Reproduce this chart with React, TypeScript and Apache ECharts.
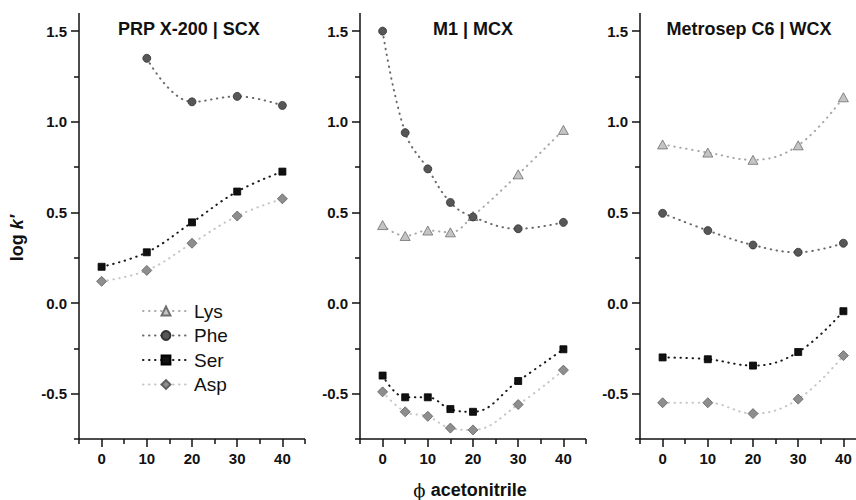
import React, { useEffect, useRef } from "react";
import * as echarts from "echarts";

// Retention factors (log k') vs. acetonitrile content for three columns
const xSCX = [0, 10, 20, 30, 40];
const scxPhe = [null, 1.35, 1.11, 1.14, 1.09];
const scxSer = [0.2, 0.28, 0.445, 0.615, 0.725];
const scxAsp = [0.12, 0.18, 0.33, 0.48, 0.575];

const xMCX = [0, 5, 10, 15, 20, 30, 40];
const mcxLys = [0.43, 0.37, 0.4, 0.39, 0.48, 0.71, 0.955];
const mcxPhe = [1.5, 0.94, 0.74, 0.555, 0.475, 0.41, 0.445];
const mcxSer = [-0.4, -0.52, -0.52, -0.585, -0.6, -0.43, -0.255];
const mcxAsp = [-0.49, -0.6, -0.625, -0.69, -0.7, -0.56, -0.37];

const xWCX = [0, 10, 20, 30, 40];
const wcxLys = [0.875, 0.83, 0.79, 0.87, 1.135];
const wcxPhe = [0.495, 0.4, 0.32, 0.28, 0.33];
const wcxSer = [-0.3, -0.31, -0.345, -0.27, -0.045];
const wcxAsp = [-0.55, -0.55, -0.61, -0.53, -0.29];

const panelTitles = ["PRP X-200 | SCX", "M1 | MCX", "Metrosep C6 | WCX"];
const xMajorTicks = [0, 10, 20, 30, 40];
const xMinorTicks = [-5, 5, 15, 25, 35, 45];
const yMajorTicks = [-0.5, 0, 0.5, 1, 1.5];
const yMinorTicks = [-0.75, -0.25, 0.25, 0.75, 1.25];

const X_MIN = -5;
const X_MAX = 45;
const Y_MIN = -0.75;
const Y_MAX = 1.6;

const FONT = "'Liberation Sans', Arial, Helvetica, sans-serif";

const GRID_TOP = 13;
const GRID_W = 226;
const GRID_H = 426;
const gridLefts = [79, 360, 640];
const titleCenters = [189, 473, 749];

type Style = {
  symbol: string;
  size: number | number[];
  fill: string;
  border: string;
  line: string;
};

const styles: Record<string, Style> = {
  Lys: { symbol: "triangle", size: [10, 9], fill: "#c4c4c4", border: "#6e6e6e", line: "#a9a9a9" },
  Phe: { symbol: "circle", size: 8, fill: "#575757", border: "#333333", line: "#6a6a6a" },
  Ser: { symbol: "rect", size: 7, fill: "#111111", border: "#000000", line: "#1a1a1a" },
  Asp: { symbol: "diamond", size: 10, fill: "#8e8e8e", border: "#5e5e5e", line: "#c6c6c6" },
};

function pairs(xs: number[], ys: (number | null)[]) {
  const out: number[][] = [];
  xs.forEach((x, i) => {
    const y = ys[i];
    if (y !== null && y !== undefined) out.push([x, y]);
  });
  return out;
}

function makeSeries(name: string, panel: number, xs: number[], ys: (number | null)[]) {
  const s = styles[name];
  return {
    type: "line",
    name,
    xAxisIndex: panel,
    yAxisIndex: panel,
    data: pairs(xs, ys),
    smooth: 0.4,
    symbol: s.symbol,
    symbolSize: s.size,
    itemStyle: { color: s.fill, borderColor: s.border, borderWidth: 0.8 },
    lineStyle: { color: s.line, width: 2, type: [0.5, 5.5], cap: "round" },
    emphasis: { disabled: true },
    z: 3,
  };
}

function lineStyle() {
  return { color: "#111", width: 1.5 };
}

const labelFont = {
  fontSize: 15,
  fontWeight: "bold",
  fontFamily: FONT,
  color: "#111",
};

// an axis that draws nothing but ticks at the given values
function tickAxis(
  dim: "x" | "y",
  gridIndex: number,
  values: number[],
  length: number,
  inside = false
) {
  return {
    type: "value",
    gridIndex,
    position: dim === "x" ? "bottom" : "left",
    min: dim === "x" ? X_MIN : Y_MIN,
    max: dim === "x" ? X_MAX : Y_MAX,
    axisLine: { show: false, onZero: false },
    splitLine: { show: false },
    axisTick: { show: true, inside, length, customValues: values.slice(), lineStyle: lineStyle() },
    axisLabel: { show: false },
  };
}

export default function App() {
  const ref = useRef<HTMLDivElement>(null);

  useEffect(() => {
    if (!ref.current) return;
    const chart = echarts.init(ref.current, undefined, { renderer: "svg" });

    // four layers of grids over the same three boxes:
    // 0-2 data + labels, 3-5 minor ticks, 6-8 major ticks, 9-11 the axis frame
    const rect = (left: number) => ({
      left,
      top: GRID_TOP,
      width: GRID_W,
      height: GRID_H,
      outerBoundsMode: "none",
      containLabel: false,
    });
    const grids = [0, 1, 2, 3].flatMap(() => gridLefts.map(rect));

    const xMain = gridLefts.map((_, i) => ({
      type: "value",
      gridIndex: i,
      position: "bottom",
      min: X_MIN,
      max: X_MAX,
      axisLine: { show: false, onZero: false },
      splitLine: { show: false },
      axisTick: { show: false },
      axisLabel: { ...labelFont, margin: 12, customValues: xMajorTicks.slice() },
    }));
    const yMain = gridLefts.map((_, i) => ({
      type: "value",
      gridIndex: i,
      position: "left",
      min: Y_MIN,
      max: Y_MAX,
      axisLine: { show: false, onZero: false },
      splitLine: { show: false },
      axisTick: { show: false },
      axisLabel: {
        ...labelFont,
        margin: 12,
        customValues: yMajorTicks.slice(),
        formatter: (v: number) => v.toFixed(1),
      },
    }));

    const xMinor = gridLefts.map((_, i) => tickAxis("x", i + 3, xMinorTicks, 5));
    const yMinor = gridLefts.map((_, i) => tickAxis("y", i + 3, yMinorTicks, 5));
    const xMajor = gridLefts.map((_, i) => tickAxis("x", i + 6, xMajorTicks, 8));
    const yMajor = gridLefts.map((_, i) => tickAxis("y", i + 6, yMajorTicks, 8));
    // the left and bottom axis lines: one inward tick at each axis minimum,
    // as long as the panel is tall / wide
    const xFrame = gridLefts.map((_, i) => tickAxis("x", i + 9, [X_MIN], GRID_H, true));
    const yFrame = gridLefts.map((_, i) => tickAxis("y", i + 9, [Y_MIN], GRID_W, true));

    const series = [
      makeSeries("Phe", 0, xSCX, scxPhe),
      makeSeries("Ser", 0, xSCX, scxSer),
      makeSeries("Asp", 0, xSCX, scxAsp),
      makeSeries("Lys", 1, xMCX, mcxLys),
      makeSeries("Phe", 1, xMCX, mcxPhe),
      makeSeries("Ser", 1, xMCX, mcxSer),
      makeSeries("Asp", 1, xMCX, mcxAsp),
      makeSeries("Lys", 2, xWCX, wcxLys),
      makeSeries("Phe", 2, xWCX, wcxPhe),
      makeSeries("Ser", 2, xWCX, wcxSer),
      makeSeries("Asp", 2, xWCX, wcxAsp),
    ];

    chart.setOption({
      animation: false,
      backgroundColor: "#ffffff",
      title: panelTitles.map((text, i) => ({
        text,
        left: titleCenters[i],
        top: 20,
        textAlign: "center",
        padding: 0,
        textStyle: { fontSize: 18, fontWeight: "bold", fontFamily: FONT, color: "#111" },
      })),
      grid: grids,
      xAxis: [...xMain, ...xMinor, ...xMajor, ...xFrame],
      yAxis: [...yMain, ...yMinor, ...yMajor, ...yFrame],
      legend: {
        data: ["Lys", "Phe", "Ser", "Asp"],
        orient: "vertical",
        left: 142,
        top: 301,
        padding: 0,
        itemWidth: 46,
        itemHeight: 11,
        itemGap: 4.5,
        selectedMode: false,
        textStyle: { fontSize: 19, lineHeight: 20, fontFamily: FONT, color: "#111" },
      },
      graphic: [
        {
          type: "text",
          x: 17,
          y: 238,
          rotation: Math.PI / 2,
          style: {
            text: "{a|log }{b|k\u2032}",
            align: "center",
            verticalAlign: "middle",
            textAlign: "center",
            textVerticalAlign: "middle",
            rich: {
              a: { fontSize: 18, fontWeight: "bold", fontFamily: FONT, fill: "#111" },
              b: { fontSize: 18, fontWeight: "bold", fontStyle: "italic", fontFamily: FONT, fill: "#111" },
            },
          },
        },
        {
          type: "text",
          x: 470,
          y: 490,
          style: {
            text: "{p|\u03d5}{b| acetonitrile}",
            align: "center",
            verticalAlign: "middle",
            textAlign: "center",
            textVerticalAlign: "middle",
            rich: {
              p: { fontSize: 18, fontFamily: "'DejaVu Serif', 'Liberation Serif', serif", fill: "#111" },
              b: { fontSize: 18, fontWeight: "bold", fontFamily: FONT, fill: "#111" },
            },
          },
        },
      ],
      series,
    });

    return () => chart.dispose();
  }, []);

  return (
    <div
      ref={ref}
      style={{ position: "absolute", left: 0, top: 0, width: 856, height: 500 }}
    />
  );
}
